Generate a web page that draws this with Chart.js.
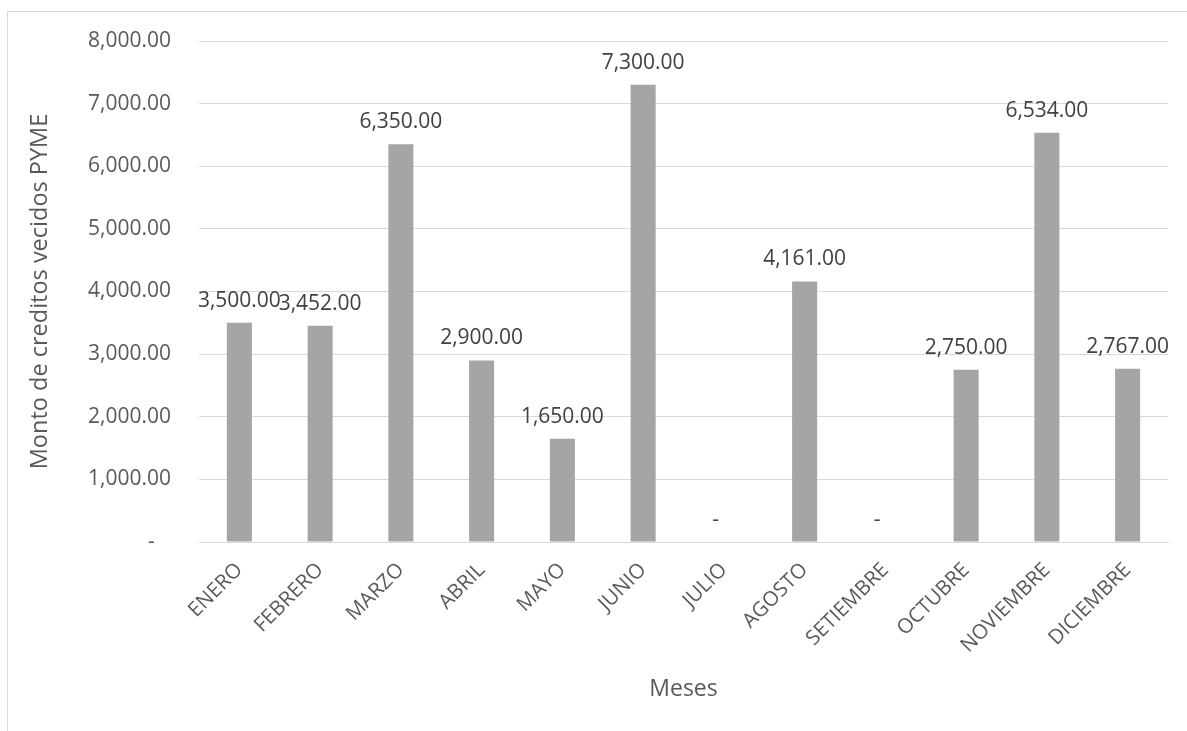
<!DOCTYPE html>
<html>
<head>
<meta charset="utf-8">
<script src="https://cdn.jsdelivr.net/npm/chart.js@4.4.1/dist/chart.umd.min.js"></script>
<style>
html,body{margin:0;padding:0;background:#fff;}
#wrap{width:1187px;height:731px;position:relative;}
</style>
</head>
<body>
<div id="wrap"><canvas id="c" width="1187" height="731"></canvas></div>
<script>
const categories = ['ENERO','FEBRERO','MARZO','ABRIL','MAYO','JUNIO','JULIO','AGOSTO','SETIEMBRE','OCTUBRE','NOVIEMBRE','DICIEMBRE'];
const montos = [3500, 3452, 6350, 2900, 1650, 7300, 0, 4161, 0, 2750, 6534, 2767];
const yTickValues = [0, 1000, 2000, 3000, 4000, 5000, 6000, 7000, 8000];
const yTitle = 'Monto de creditos vecidos PYME';
const xTitle = 'Meses';

const FONT = "'Open Sans', 'DejaVu Sans', sans-serif";
const PAD_LEFT = 26, PAD_TOP = 41, PAD_RIGHT = 19, PAD_BOTTOM = 28;
const AREA_LEFT = 199, AREA_BOTTOM = 542;

function fmt(v) {
  if (v === 0) return '-   ';
  return v.toLocaleString('en-US', {minimumFractionDigits: 2, maximumFractionDigits: 2});
}

const framePlugin = {
  id: 'frame',
  beforeDraw(chart) {
    const ctx = chart.ctx;
    ctx.save();
    ctx.fillStyle = '#ffffff';
    ctx.fillRect(0, 0, chart.width, chart.height);
    ctx.strokeStyle = '#d9d9d9';
    ctx.lineWidth = 1;
    ctx.strokeRect(7.5, 11.5, 1400, 1000);
    ctx.restore();
  }
};

const labelPlugin = {
  id: 'barLabels',
  afterDatasetsDraw(chart) {
    const ctx = chart.ctx;
    const meta = chart.getDatasetMeta(0);
    const data = chart.data.datasets[0].data;
    ctx.save();
    ctx.font = '21px ' + FONT;
    ctx.fillStyle = '#404040';
    ctx.textAlign = 'center';
    ctx.textBaseline = 'middle';
    meta.data.forEach((bar, i) => {
      ctx.fillText(fmt(data[i]), bar.x, bar.y - 22);
    });
    ctx.restore();
  }
};

new Chart(document.getElementById('c'), {
  type: 'bar',
  data: {
    labels: categories,
    datasets: [{
      data: montos,
      backgroundColor: '#a5a5a5',
      borderWidth: 0,
      barPercentage: 0.31,
      categoryPercentage: 1.0
    }]
  },
  options: {
    responsive: false,
    animation: false,
    devicePixelRatio: 1,
    layout: { padding: { left: PAD_LEFT, top: PAD_TOP, right: PAD_RIGHT, bottom: PAD_BOTTOM } },
    plugins: { legend: { display: false }, tooltip: { enabled: false } },
    scales: {
      x: {
        grid: { display: false, drawTicks: false },
        border: { display: true, color: '#d9d9d9', width: 1 },
        ticks: {
          color: '#595959',
          font: { family: FONT, size: 20.5 },
          minRotation: 45, maxRotation: 45,
          padding: 16,
          autoSkip: false
        },
        title: {
          display: true, text: xTitle, color: '#595959',
          font: { family: FONT, size: 23 }, padding: 0
        },
        afterFit(scale) { scale.height = 731 - PAD_BOTTOM - AREA_BOTTOM; }
      },
      y: {
        min: 0, max: 8000,
        afterBuildTicks(scale) { scale.ticks = yTickValues.map(v => ({ value: v })); },
        grid: { color: '#d9d9d9', lineWidth: 1, drawTicks: false },
        border: { display: false },
        ticks: {
          color: '#595959',
          font: { family: FONT, size: 21 },
          padding: 28,
          callback: (v) => fmt(v)
        },
        title: {
          display: true, text: yTitle, color: '#595959',
          font: { family: FONT, size: 23.5 }, padding: { top: 0, bottom: 0 }
        },
        afterFit(scale) { scale.width = AREA_LEFT - PAD_LEFT; }
      }
    }
  },
  plugins: [framePlugin, labelPlugin]
});
</script>
</body>
</html>
